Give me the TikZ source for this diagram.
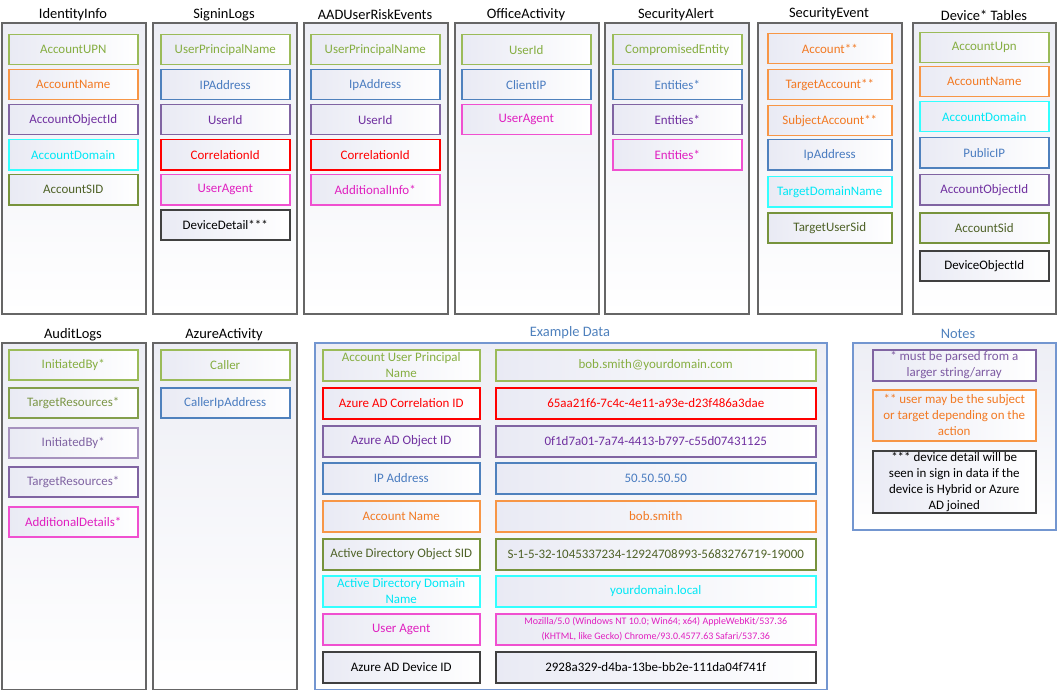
\documentclass[tikz,border=0pt]{standalone}
\usepackage{fontspec}
\setmainfont{Carlito}
\definecolor{cgreen}{HTML}{9BBB59}
\definecolor{cgreenT}{HTML}{86AE42}
\definecolor{corange}{HTML}{F79646}
\definecolor{corangeT}{HTML}{F27A24}
\definecolor{cpurple}{HTML}{8064A2}
\definecolor{cpurpleT}{HTML}{7030A0}
\definecolor{ccyan}{HTML}{33FFFF}
\definecolor{ccyanT}{HTML}{00E8F5}
\definecolor{cdkgreen}{HTML}{77933C}
\definecolor{cdkgreenT}{HTML}{4F6228}
\definecolor{cblue}{HTML}{4F81BD}
\definecolor{cblueT}{HTML}{4A7CC0}
\definecolor{cred}{HTML}{FF0000}
\definecolor{cmag}{HTML}{F050D0}
\definecolor{cmagT}{HTML}{E020C0}
\definecolor{cblack}{HTML}{404040}
\definecolor{cframe}{HTML}{666666}
\definecolor{cfill}{HTML}{E9EAF4}
\definecolor{cframefill}{HTML}{EDEEF5}
\definecolor{cbluebox}{HTML}{7396D0}
\begin{document}
\begin{tikzpicture}[x=1bp,y=-1bp,
  frame/.style={draw=cframe, line width=1.7bp, anchor=north west, inner sep=0pt,
    top color=cframefill, bottom color=white, minimum width=144bp},
  bframe/.style={frame, draw=cbluebox, line width=1.5bp},
  title/.style={font=\fontsize{14.5}{16}\selectfont, text=black},
  btitle/.style={title, text=cblue},
  item/.style={draw, line width=1.5bp, inner sep=1bp, minimum height=30bp,
    minimum width=129bp, anchor=north west, align=center,
    font=\fontsize{13}{16}\selectfont, left color=cfill, right color=white},
  gi/.style={item, draw=cgreen, text=cgreenT},
  oi/.style={item, draw=corange, text=corangeT},
  pi/.style={item, draw=cpurple, text=cpurpleT},
  ci/.style={item, draw=ccyan, text=ccyanT},
  di/.style={item, draw=cdkgreen, text=cdkgreenT},
  bi/.style={item, draw=cblue, text=cblueT},
  ri/.style={item, draw=cred, text=cred},
  mi/.style={item, draw=cmag, text=cmagT},
  ki/.style={item, draw=cblack, text=black},
  exl/.style={minimum width=157bp, minimum height=31bp},
  exr/.style={minimum width=320bp, minimum height=31bp},
  note/.style={minimum width=163bp}
]
\useasboundingbox (0,0) rectangle (1057,690);

% ---------- top row containers ----------
\node[frame, minimum height=291bp] (c1) at (1,22) {};
\node[frame, minimum height=291bp] (c2) at (152,22) {};
\node[frame, minimum height=291bp] (c3) at (303,22) {};
\node[frame, minimum height=291bp] (c4) at (454,22) {};
\node[frame, minimum height=291bp] (c5) at (604,22) {};
\node[frame, minimum height=291bp] (c6) at (757,22) {};
\node[frame, minimum height=291bp, minimum width=143bp] (c7) at (912,22) {};

\node[title] (t1) at (73,15) {IdentityInfo};
\node[title] (t2) at (224,15) {SigninLogs};
\node[title] (t3) at (375,15) {AADUserRiskEvents};
\node[title] (t4) at (526,15) {OfficeActivity};
\node[title] (t5) at (676,15) {SecurityAlert};
\node[title] (t6) at (829,14) {SecurityEvent};
\node[title] (t7) at (984,15) {Device* Tables};

% IdentityInfo
\node[gi] (a1) at (8,34) {AccountUPN};
\node[oi] (a2) at (8,69) {AccountName};
\node[pi] (a3) at (8,104) {AccountObjectId};
\node[ci] (a4) at (8,139) {AccountDomain};
\node[di] (a5) at (8,174) {AccountSID};

% SigninLogs
\node[gi] (b1) at (160,34) {UserPrincipalName};
\node[bi] (b2) at (160,69) {IPAddress};
\node[pi] (b3) at (160,104) {UserId};
\node[ri] (b4) at (160,139) {CorrelationId};
\node[mi] (b5) at (160,174) {UserAgent};
\node[ki] (b6) at (160,209) {DeviceDetail***};

% AADUserRiskEvents
\node[gi] (r1) at (310,34) {UserPrincipalName};
\node[bi] (r2) at (310,69) {IpAddress};
\node[pi] (r3) at (310,104) {UserId};
\node[ri] (r4) at (310,139) {CorrelationId};
\node[mi] (r5) at (310,174) {AdditionalInfo*};

% OfficeActivity
\node[gi] (o1) at (461,34) {UserId};
\node[bi] (o2) at (461,69) {ClientIP};
\node[mi] (o3) at (461,104) {UserAgent};

% SecurityAlert
\node[gi] (s1) at (612,34) {CompromisedEntity};
\node[bi] (s2) at (612,69) {Entities*};
\node[pi] (s3) at (612,104) {Entities*};
\node[mi] (s4) at (612,139) {Entities*};

% SecurityEvent
\node[oi, minimum width=124bp] (e1) at (767,33) {Account**};
\node[oi, minimum width=124bp] (e2) at (767,69) {TargetAccount**};
\node[oi, minimum width=124bp] (e3) at (767,105) {SubjectAccount**};
\node[bi, minimum width=124bp] (e4) at (767,139) {IpAddress};
\node[ci, minimum width=124bp] (e5) at (767,176) {TargetDomainName};
\node[di, minimum width=124bp] (e6) at (767,212) {TargetUserSid};

% Device* Tables
\node[gi] (d1) at (919,32) {AccountUpn};
\node[oi] (d2) at (919,66) {AccountName};
\node[ci] (d3) at (919,101) {AccountDomain};
\node[bi] (d4) at (919,137) {PublicIP};
\node[pi] (d5) at (919,174) {AccountObjectId};
\node[di] (d6) at (919,212) {AccountSid};
\node[ki] (d7) at (919,250) {DeviceObjectId};

% ---------- bottom row ----------
\node[frame, minimum height=347bp] (c8) at (1,342) {};
\node[frame, minimum height=347bp] (c9) at (152,342) {};
\node[bframe, minimum width=512bp, minimum height=347bp] (c10) at (314,342) {};
\node[bframe, minimum width=203bp, minimum height=187bp] (c11) at (852,342) {};

\node[title] (t8) at (73,335) {AuditLogs};
\node[title] (t9) at (224,335) {AzureActivity};
\node[btitle] (t10) at (570,333) {Example Data};
\node[btitle] (t11) at (958,334) {Notes};

% AuditLogs
\node[gi] (l1) at (8,349) {InitiatedBy*};
\node[gi, draw=cgreen!85!black, text=cgreen!80!black] (l2) at (8,387) {TargetResources*};
\node[pi, draw=cpurple!70, text=cpurple] (l3) at (8,427) {InitiatedBy*};
\node[pi, text=cpurple] (l4) at (8,466) {TargetResources*};
\node[mi] (l5) at (8,506) {AdditionalDetails*};

% AzureActivity
\node[gi] (z1) at (160,349) {Caller};
\node[bi] (z2) at (160,387) {CallerIpAddress};

% Example Data
\node[gi, exl] (x1) at (322,349) {Account User Principal\\Name};
\node[gi, exr] (y1) at (495,349) {bob.smith@yourdomain.com};
\node[ri, exl] (x2) at (322,387) {Azure AD Correlation ID};
\node[ri, exr] (y2) at (495,387) {65aa21f6-7c4c-4e11-a93e-d23f486a3dae};
\node[pi, exl] (x3) at (322,425) {Azure AD Object ID};
\node[pi, exr] (y3) at (495,425) {0f1d7a01-7a74-4413-b797-c55d07431125};
\node[bi, exl] (x4) at (322,462) {IP Address};
\node[bi, exr] (y4) at (495,462) {50.50.50.50};
\node[oi, exl] (x5) at (322,500) {Account Name};
\node[oi, exr] (y5) at (495,500) {bob.smith};
\node[di, exl] (x6) at (322,538) {Active Directory Object SID};
\node[di, exr] (y6) at (495,538) {S-1-5-32-1045337234-12924708993-5683276719-19000};
\node[ci, exl] (x7) at (322,575) {Active Directory Domain\\Name};
\node[ci, exr] (y7) at (495,575) {yourdomain.local};
\node[mi, exl] (x8) at (322,613) {User Agent};
\node[mi, exr, font=\fontsize{10}{15}\selectfont] (y8) at (495,613) {Mozilla/5.0 (Windows NT 10.0; Win64; x64) AppleWebKit/537.36\\(KHTML, like Gecko) Chrome/93.0.4577.63 Safari/537.36};
\node[ki, exl] (x9) at (322,651) {Azure AD Device ID};
\node[ki, exr] (y9) at (495,651) {2928a329-d4ba-13be-bb2e-111da04f741f};

% Notes
\node[pi, note, minimum height=31bp, text=cpurple!80!cpurpleT] (n1) at (872,349) {* must be parsed from a\\larger string/array};
\node[oi, note, minimum height=51bp] (n2) at (872,389) {** user may be the subject\\or target depending on the\\action};
\node[ki, note, minimum height=62bp] (n3) at (872,450) {*** device detail will be\\seen in sign in data if the\\device is Hybrid or Azure\\AD joined};
\end{tikzpicture}
\end{document}
